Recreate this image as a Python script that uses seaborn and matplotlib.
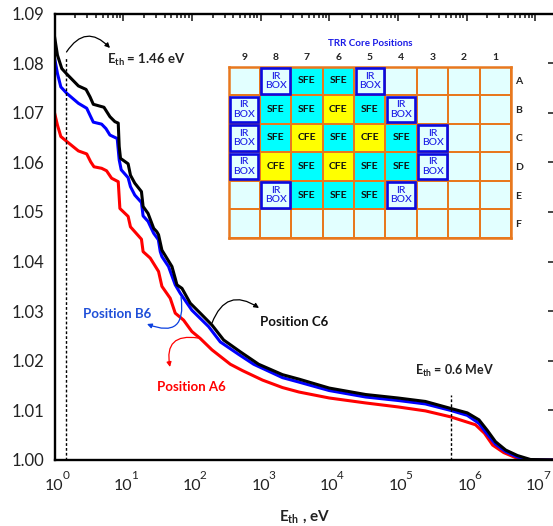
import matplotlib
matplotlib.use('Agg')
import matplotlib.pyplot as plt
from matplotlib.colors import ListedColormap
from matplotlib.patches import FancyArrowPatch, Rectangle
from matplotlib.ticker import LogLocator, NullFormatter
from matplotlib.transforms import ScaledTranslation
import numpy as np
import pandas as pd
import seaborn as sns

# log10(E) and k-ratio
c6_log = [0, .043, .106, .179, .348, .459, .517, .565, .72, .807, .879, .928, .942, .961, 1.072, 1.106, 1.169, 1.266, 1.29,
          1.362, 1.444, 1.49, 1.515, 1.564, 1.71, 1.758, 1.783, 1.856, 1.977, 2.122, 2.293, 2.462, 2.706, 2.972, 3.32, 3.56,
          4, 4.53, 5, 5.4, 5.767, 6.01, 6.18, 6.30, 6.42, 6.57, 6.74, 6.93, 7.28]
c6_val = [1.0854, 1.0816, 1.0789, 1.0778, 1.0754, 1.0747, 1.0732, 1.0717, 1.0711, 1.0692, 1.0682, 1.0679, 1.0632, 1.0608,
          1.0597, 1.0574, 1.0558, 1.0541, 1.0511, 1.0497, 1.0467, 1.046, 1.0454, 1.0423, 1.039, 1.0366, 1.0353, 1.0346,
          1.0316, 1.0296, 1.0272, 1.0242, 1.0218, 1.0193, 1.0172, 1.0163, 1.0145, 1.0132, 1.0125, 1.0118, 1.0104, 1.0095,
          1.0081, 1.006, 1.0037, 1.002, 1.0009, 1.0001, 1.0]
b6_log = [0, .043, .092, .179, .348, .469, .527, .565, .686, .749, .807, .913, .942, .971, 1.072, 1.106, 1.169, 1.266, 1.29,
          1.362, 1.444, 1.512, 1.54, 1.564, 1.66, 1.758, 1.831, 2.0, 2.243, 2.414, 2.68, 2.9, 3.32, 3.56,
          4, 4.53, 5, 5.4, 5.767, 6.01, 6.18, 6.29, 6.42, 6.57, 6.74, 6.93, 7.28]
b6_val = [1.0811, 1.0779, 1.0752, 1.0739, 1.0719, 1.0709, 1.0692, 1.0681, 1.0677, 1.0668, 1.0655, 1.0648, 1.0605, 1.0585,
          1.0569, 1.0551, 1.0534, 1.0519, 1.0492, 1.0481, 1.0457, 1.0444, 1.042, 1.041, 1.039, 1.0353, 1.0336, 1.0302,
          1.0269, 1.0238, 1.0213, 1.0193, 1.0166, 1.0157, 1.014, 1.0127, 1.012, 1.0113, 1.01, 1.009, 1.0074, 1.0054,
          1.0032, 1.0017, 1.0006, 1.0, 1.0]
a6_log = [0, .043, .092, .179, .348, .469, .527, .575, .686, .758, .831, .928, .952, 1.072, 1.106, 1.266, 1.29, 1.394, 1.515,
          1.564, 1.685, 1.758, 1.879, 2.0, 2.122, 2.293, 2.56, 2.74, 3.03, 3.32, 3.56,
          4, 4.53, 5, 5.4, 5.767, 6.13, 6.26, 6.38, 6.54, 6.71, 6.93, 7.28]
a6_val = [1.07, 1.0675, 1.0652, 1.0642, 1.0623, 1.0617, 1.0601, 1.0591, 1.0588, 1.0583, 1.0568, 1.0561, 1.0507, 1.0491,
          1.047, 1.0445, 1.042, 1.0407, 1.038, 1.035, 1.0326, 1.0296, 1.0282, 1.0259, 1.0245, 1.0222, 1.0193, 1.018, 1.0161,
          1.0146, 1.0137, 1.0125, 1.0115, 1.0107, 1.0099, 1.0087, 1.0071, 1.0054, 1.003, 1.0015, 1.0005, 1.0, 1.0]
y_ticks = [1.00, 1.01, 1.02, 1.03, 1.04, 1.05, 1.06, 1.07, 1.08, 1.09]
x_decades = [0, 1, 2, 3, 4, 5, 6, 7]

core_columns = ['9', '8', '7', '6', '5', '4', '3', '2', '1']
core_rows = ['A', 'B', 'C', 'D', 'E', 'F']
core_map = [
    ['', 'IR', 'SFE', 'SFE', 'IR', '', '', '', ''],
    ['IR', 'SFE', 'SFE', 'CFE', 'SFE', 'IR', '', '', ''],
    ['IR', 'SFE', 'CFE', 'SFE', 'CFE', 'SFE', 'IR', '', ''],
    ['IR', 'CFE', 'SFE', 'CFE', 'SFE', 'SFE', 'IR', '', ''],
    ['', 'IR', 'SFE', 'SFE', 'SFE', 'IR', '', '', ''],
    ['', '', '', '', '', '', '', '', ''],
]

W, H = 553, 526
FONT = 'Lato'
ETH = r'$\mathbf{E_{th}}$'


def px(x, y):
    return x / W, 1 - y / H


def curve_frame(logs, vals, name):
    return pd.DataFrame({'E': np.power(10.0, logs), 'ratio': vals, 'pos': name})


def curved_arrow(fig, start, end, color, rad):
    fig.add_artist(FancyArrowPatch(
        px(*start), px(*end), transform=fig.transFigure, connectionstyle=f'arc3,rad={rad}',
        arrowstyle='-|>', mutation_scale=7, color=color, lw=0.9, shrinkA=0, shrinkB=0))


def draw_curves(fig, ax):
    df = pd.concat([curve_frame(a6_log, a6_val, 'A6'), curve_frame(b6_log, b6_val, 'B6'),
                    curve_frame(c6_log, c6_val, 'C6')])
    sns.lineplot(data=df, x='E', y='ratio', hue='pos', palette={'A6': '#ff0000', 'B6': '#0000ff', 'C6': '#000000'},
                 estimator=None, sort=False, lw=2.2, legend=False, ax=ax)
    ax.plot([1.46, 1.46], [1.0, 1.0812], color='black', lw=1, ls=(0, (2, 1.5)))
    ax.plot([6e5, 6e5], [1.0, 1.0132], color='black', lw=1, ls=(0, (2, 1.5)))

    ax.set_xscale('log')
    ax.set_xlim(1, 10 ** 7.28)
    ax.set_ylim(1.0, 1.09)
    ax.set_yticks(y_ticks)
    ax.set_yticklabels([f'{v:.2f}' for v in y_ticks], fontsize=12, color='#222222')
    ax.set_xticks([10.0 ** d for d in x_decades])
    ax.set_xticklabels(['10'] * len(x_decades), fontsize=11.5, color='#222222')
    shift = ScaledTranslation(-1.5 / 72, 0, fig.dpi_scale_trans)
    for t in ax.get_xticklabels():
        t.set_transform(t.get_transform() + shift)
    ax.xaxis.set_minor_locator(LogLocator(base=10, subs=range(2, 10), numticks=12))
    ax.xaxis.set_minor_formatter(NullFormatter())
    ax.tick_params(axis='x', which='major', direction='in', top=True, length=5, width=1.2, pad=14)
    ax.tick_params(axis='x', which='minor', direction='in', top=True, length=3, width=1.2)
    ax.tick_params(axis='y', which='major', direction='in', right=True, length=5, width=1.2, pad=7)
    for side in ax.spines:
        ax.spines[side].set_linewidth(1.7)
    ax.set_xlabel('')
    ax.set_ylabel('')
    for d in x_decades:
        ax.annotate(str(d), xy=(10.0 ** d, 1.0), xytext=(8, -13.5), textcoords='offset points',
                    fontsize=8.5, color='#222222', ha='center', va='baseline', annotation_clip=False)


def draw_core(fig):
    ax = fig.add_axes([228.5 / W, 1 - 238 / H, 282.5 / W, 171.5 / H])
    kinds = {'': 0, 'IR': 0, 'SFE': 1, 'CFE': 2}
    codes = np.array([[kinds[c] for c in row] for row in core_map])
    labels = np.array([[{'IR': 'IR\nBOX'}.get(c, c) for c in row] for row in core_map])
    sns.heatmap(codes, ax=ax, cmap=ListedColormap(['#e2ffff', '#00ffff', '#ffff00']), vmin=0, vmax=2, cbar=False,
                linewidths=1.2, linecolor='#e8781e', annot=labels, fmt='', xticklabels=core_columns,
                yticklabels=core_rows, annot_kws={'fontsize': 7.5, 'fontweight': 'bold', 'color': '#111111'})
    for t in ax.texts:
        if 'BOX' in t.get_text():
            t.set_color('#1a1ae6')
            t.set_fontsize(7.5)
            t.set_linespacing(1.05)
            t.set_fontweight('medium')
    for i, row in enumerate(core_map):
        for j, c in enumerate(row):
            if c == 'IR':
                ax.add_patch(Rectangle((j + 0.05, i + 0.05), 0.9, 0.9, fill=False, ec='#0a0ae0', lw=1.9, zorder=5))
    for side in ax.spines:
        ax.spines[side].set_visible(True)
        ax.spines[side].set_color('#e8781e')
        ax.spines[side].set_linewidth(1.8)
    ax.xaxis.tick_top()
    ax.yaxis.tick_right()
    ax.tick_params(length=0, labelsize=7.5, pad=3, labelrotation=0)
    for t in ax.get_xticklabels() + ax.get_yticklabels():
        t.set_fontweight('bold')
        t.set_color('#222222')


def main():
    sns.set_theme(style='white')
    plt.rcParams['font.family'] = [FONT, 'DejaVu Sans']
    plt.rcParams['mathtext.fontset'] = 'custom'
    plt.rcParams['mathtext.bf'] = f'{FONT}:bold'
    plt.rcParams['mathtext.rm'] = FONT
    plt.rcParams['axes.edgecolor'] = 'black'

    fig = plt.figure(figsize=(W / 100, H / 100), dpi=100, facecolor='white')
    ax = fig.add_axes([54.5 / W, 1 - 460 / H, 500 / W, 446.5 / H])
    draw_curves(fig, ax)
    draw_core(fig)

    bold = dict(fontsize=9.5, fontweight='bold', va='center', transform=fig.transFigure)
    fig.text(*px(107, 60), ETH + ' = 1.46 eV', color='#222222', **bold)
    fig.text(*px(260, 322), 'Position C6', color='#111111', **bold)
    fig.text(*px(83, 314), 'Position B6', color='#1f4fd8', **bold)
    fig.text(*px(157, 387), 'Position A6', color='#ff0000', **bold)
    fig.text(*px(415, 371), ETH + ' = 0.6 MeV', color='#222222', **{**bold, 'fontsize': 9})
    fig.text(*px(370, 43), 'TRR Core Positions', color='#1a1ae6', ha='center',
             **{**bold, 'fontsize': 7})
    fig.text(*px(305, 517), ETH + ' , eV', color='#222222', ha='center', **{**bold, 'fontsize': 11})

    curved_arrow(fig, (66.5, 52), (110, 48), 'black', -0.62)
    curved_arrow(fig, (212, 323), (259, 308), 'black', -0.62)
    curved_arrow(fig, (181, 297), (147, 324), '#0a3fe0', -0.85)
    curved_arrow(fig, (198, 338), (170, 367), '#ff0000', 0.7)

    fig.savefig('out.png', dpi=100)
    plt.close(fig)


if "__main__" == __name__:
    main()
